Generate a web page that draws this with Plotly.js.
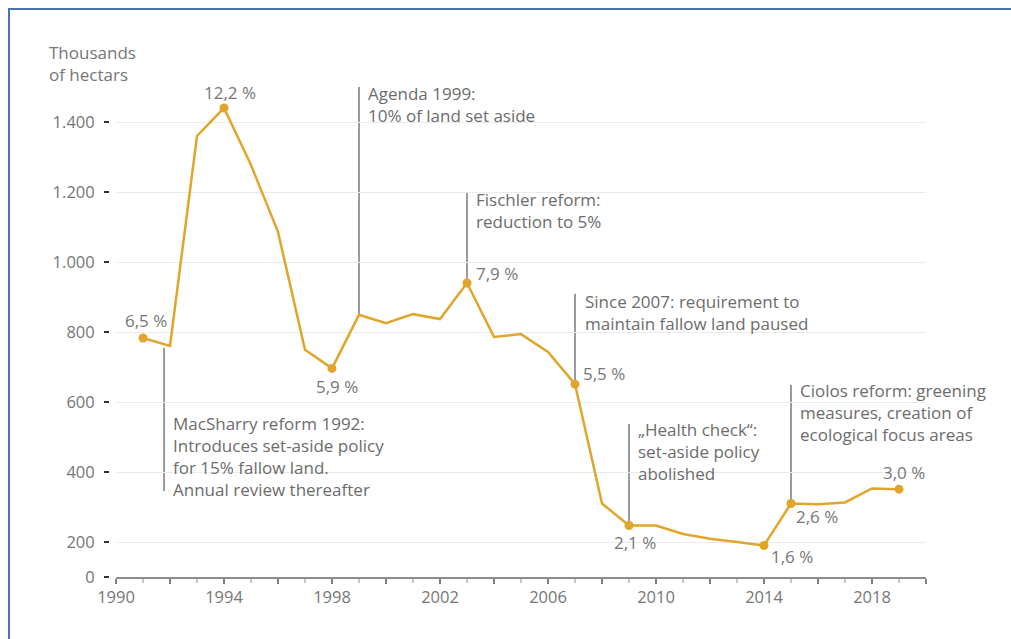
<!DOCTYPE html>
<html>
<head>
<meta charset="utf-8">
<script src="https://cdn.plot.ly/plotly-3.0.1.min.js"></script>
<style>
  html, body { margin: 0; padding: 0; background: #ffffff; }
  #chart { width: 1011px; height: 639px; }
</style>
</head>
<body>
<div id="chart"></div>
<script>
// Fallow / set-aside land, thousands of hectares
const years = [1991, 1992, 1993, 1994, 1995, 1996, 1997, 1998, 1999, 2000,
               2001, 2002, 2003, 2004, 2005, 2006, 2007, 2008, 2009, 2010,
               2011, 2012, 2013, 2014, 2015, 2016, 2017, 2018, 2019];
const area = [783, 760, 1360, 1440, 1277, 1086, 749, 696, 849, 825,
              851, 837, 940, 786, 794, 743, 651, 310, 247, 247,
              223, 209, 200, 190, 310, 308, 313, 353, 351];

// Years carrying a share-of-arable-land label
const shareYears = [1991, 1994, 1998, 2003, 2007, 2009, 2014, 2015, 2019];
const shareLabels = ['6,5 %', '12,2 %', '5,9 %', '7,9 %', '5,5 %', '2,1 %', '1,6 %', '2,6 %', '3,0 %'];

// Y axis: the baseline is drawn at 100 and labelled "0" (broken axis)
const yTickVals = [100, 200, 400, 600, 800, 1000, 1200, 1400];
const yTickText = ['0', '200', '400', '600', '800', '1.000', '1.200', '1.400'];

const xTickVals = [1990, 1992, 1994, 1996, 1998, 2000, 2002, 2004, 2006, 2008,
                   2010, 2012, 2014, 2016, 2018, 2020];
const xTickText = ['1990', '', '1994', '', '1998', '', '2002', '', '2006', '',
                   '2010', '', '2014', '', '2018', ''];

// Policy milestones: leader line year and extent, text block anchor (block centre)
const policyNotes = [
  { year: 1991.78, top: 754, bottom: 346, tx: 1992.05, ty: 443,
    lines: ['MacSharry reform 1992:', 'Introduces set-aside policy', 'for 15% fallow land.', 'Annual review thereafter'] },
  { year: 1999, top: 1500, bottom: 849, tx: 1999.26, ty: 1450,
    lines: ['Agenda 1999:', '10% of land set aside'] },
  { year: 2003, top: 1197, bottom: 940, tx: 2003.27, ty: 1147,
    lines: ['Fischler reform:', 'reduction to 5%'] },
  { year: 2007, top: 909, bottom: 651, tx: 2007.28, ty: 857,
    lines: ['Since 2007: requirement to', 'maintain fallow land paused'] },
  { year: 2009, top: 537, bottom: 247, tx: 2009.26, ty: 460,
    lines: ['„Health check“:', 'set-aside policy', 'abolished'] },
  { year: 2015, top: 649, bottom: 310, tx: 2015.26, ty: 569,
    lines: ['Ciolos reform: greening', 'measures, creation of', 'ecological focus areas'] }
];

// Placement of each share label relative to its point
const sharePlacement = [
  { xanchor: 'center', xshift: 3,  yshift: 17 },
  { xanchor: 'center', xshift: 6,  yshift: 16 },
  { xanchor: 'center', xshift: 5,  yshift: -18 },
  { xanchor: 'left',   xshift: 7,  yshift: 10 },
  { xanchor: 'left',   xshift: 6,  yshift: 11 },
  { xanchor: 'center', xshift: 6,  yshift: -17 },
  { xanchor: 'left',   xshift: 5,  yshift: -11 },
  { xanchor: 'left',   xshift: 3,  yshift: -13 },
  { xanchor: 'center', xshift: 5,  yshift: 17 }
];

const FONT = '"Open Sans", "Noto Sans", sans-serif';
const LINE = '#e2a52b';
const TEXT = '#767676';
const NOTE = '#6c6c6c';

const valueOf = y => area[years.indexOf(y)];

const traces = [
  {
    x: years, y: area, type: 'scatter', mode: 'lines',
    line: { color: LINE, width: 2.5 }, hoverinfo: 'x+y', showlegend: false
  },
  {
    x: shareYears, y: shareYears.map(valueOf), type: 'scatter', mode: 'markers',
    marker: { color: LINE, size: 9 }, hoverinfo: 'x+y', showlegend: false
  }
];

const ML = 109, MR = 85, MT = 80, MB = 62, W = 1011, H = 639;
const PW = W - ML - MR, PH = H - MT - MB;
const px = x => (x - ML) / PW;          // pixel -> paper x
const py = y => (H - MB - y) / PH;      // pixel -> paper y

const shapes = policyNotes.map(n => ({
  type: 'line', xref: 'x', yref: 'y',
  x0: n.year, x1: n.year, y0: n.bottom, y1: n.top,
  line: { color: '#7a7a7a', width: 1.5 }, layer: 'below'
}));
// frame along the top and left edges
shapes.push({
  type: 'path', xref: 'paper', yref: 'paper',
  path: `M ${px(9)} ${py(660)} L ${px(9)} ${py(9)} L ${px(1030)} ${py(9)}`,
  line: { color: '#4a72b5', width: 2 }
});

const annotations = [];
policyNotes.forEach(n => annotations.push({
  x: n.tx, y: n.ty, xref: 'x', yref: 'y', text: n.lines.join('<br>'), showarrow: false,
  xanchor: 'left', yanchor: 'middle', align: 'left',
  font: { family: FONT, size: 17, color: NOTE }
}));
shareYears.forEach((yr, i) => annotations.push({
  x: yr, y: valueOf(yr), xref: 'x', yref: 'y', text: shareLabels[i], showarrow: false,
  xanchor: sharePlacement[i].xanchor, yanchor: 'middle',
  xshift: sharePlacement[i].xshift, yshift: sharePlacement[i].yshift,
  font: { family: FONT, size: 17, color: TEXT }
}));
annotations.push({
  x: px(47), y: py(63), xref: 'paper', yref: 'paper',
  text: 'Thousands<br>of hectars', showarrow: false,
  xanchor: 'left', yanchor: 'middle', align: 'left',
  font: { family: FONT, size: 17, color: TEXT }
});

const layout = {
  width: W, height: H,
  margin: { l: ML, r: MR, t: MT, b: MB },
  paper_bgcolor: '#ffffff', plot_bgcolor: '#ffffff',
  font: { family: FONT, size: 16, color: TEXT },
  showlegend: false,
  xaxis: {
    domain: [7 / PW, 1],
    range: [1990, 2020],
    tickmode: 'array', tickvals: xTickVals, ticktext: xTickText,
    ticks: 'outside', ticklen: 5, tickwidth: 1.5, tickcolor: '#7f7f7f',
    minor: { dtick: 1, tick0: 1990, ticks: 'outside', ticklen: 4, tickcolor: '#c8c8c8', tickwidth: 1.5, showgrid: false },
    showline: true, linecolor: '#8c8c8c', linewidth: 1.5,
    showgrid: false, zeroline: false,
    tickfont: { family: FONT, size: 16.5, color: TEXT }
  },
  yaxis: {
    anchor: 'free', position: 0,
    range: [100, 100 + PH / 0.35],
    tickmode: 'array', tickvals: yTickVals, ticktext: yTickText,
    ticks: 'outside', ticklen: 5, tickwidth: 1.5, tickcolor: '#333333',
    ticklabelstandoff: 6,
    showline: false, showgrid: true, gridcolor: '#ebebeb', gridwidth: 1,
    zeroline: false,
    tickfont: { family: FONT, size: 16.5, color: TEXT }
  },
  shapes: shapes,
  annotations: annotations
};

Plotly.newPlot('chart', traces, layout, { displayModeBar: false, staticPlot: true });
</script>
</body>
</html>
